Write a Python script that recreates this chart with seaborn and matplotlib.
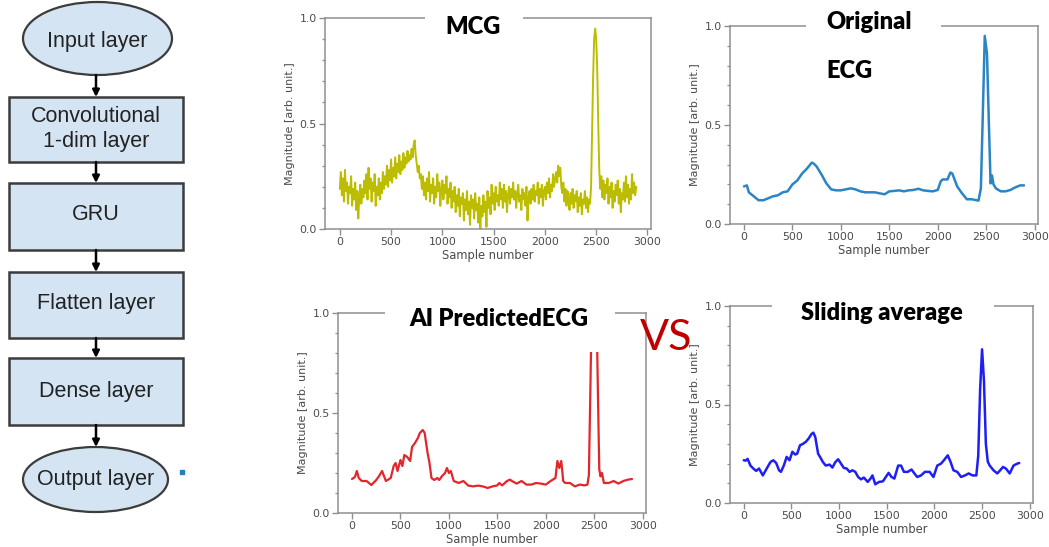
import numpy as np
import pandas as pd
import matplotlib
matplotlib.use("Agg")
import matplotlib.pyplot as plt
import seaborn as sns
from matplotlib.patches import Rectangle, Ellipse
from matplotlib.ticker import MultipleLocator

# ---------------- data ----------------
layers = ["Input layer", "Convolutional\n1-dim layer", "GRU", "Flatten layer", "Dense layer", "Output layer"]
titles = ["MCG", "Original", "AI PredictedECG", "Sliding average"]
x_ticks = [0, 500, 1000, 1500, 2000, 2500, 3000]
y_ticks = [0.0, 0.5, 1.0]
y_tick_labels = ["0.0", "0.5", "1.0"]

mcg_step = 10
mcg_y = [
    0.19, 0.27, 0.16, 0.24, 0.13, 0.28, 0.18, 0.22, 0.12, 0.20,
    0.17, 0.25, 0.11, 0.19, 0.14, 0.22, 0.09, 0.18, 0.05, 0.16,
    0.21, 0.12, 0.19, 0.15, 0.23, 0.17, 0.26, 0.14, 0.29, 0.19,
    0.24, 0.13, 0.22, 0.18, 0.26, 0.11, 0.20, 0.16, 0.24, 0.14,
    0.22, 0.17, 0.27, 0.19, 0.25, 0.21, 0.30, 0.20, 0.28, 0.23,
    0.33, 0.22, 0.29, 0.25, 0.34, 0.24, 0.31, 0.27, 0.35, 0.26,
    0.32, 0.28, 0.36, 0.29, 0.34, 0.31, 0.37, 0.32, 0.35, 0.33,
    0.38, 0.34, 0.40, 0.42, 0.35, 0.31, 0.27, 0.30, 0.24, 0.26,
    0.19, 0.25, 0.16, 0.22, 0.14, 0.24, 0.18, 0.27, 0.13, 0.21,
    0.17, 0.24, 0.12, 0.20, 0.15, 0.26, 0.18, 0.22, 0.11, 0.19,
    0.23, 0.14, 0.21, 0.17, 0.25, 0.12, 0.19, 0.15, 0.22, 0.10,
    0.18, 0.13, 0.20, 0.08, 0.16, 0.11, 0.19, 0.06, 0.15, 0.12,
    0.17, 0.04, 0.14, 0.09, 0.18, 0.07, 0.13, 0.02, 0.16, 0.10,
    0.14, 0.05, 0.17, 0.09, 0.12, 0.03, 0.15, 0.00, 0.11, 0.06,
    0.16, 0.08, 0.13, 0.01, 0.18, 0.10, 0.15, 0.07, 0.21, 0.12,
    0.17, 0.09, 0.20, 0.13, 0.16, 0.11, 0.22, 0.14, 0.19, 0.10,
    0.21, 0.13, 0.18, 0.08, 0.16, 0.20, 0.12, 0.19, 0.15, 0.22,
    0.14, 0.18, 0.10, 0.17, 0.21, 0.13, 0.16, 0.09, 0.19, 0.14,
    0.17, 0.11, 0.20, 0.04, 0.15, 0.18, 0.12, 0.19, 0.14, 0.21,
    0.13, 0.18, 0.16, 0.22, 0.12, 0.19, 0.15, 0.21, 0.11, 0.18,
    0.20, 0.14, 0.22, 0.17, 0.24, 0.15, 0.21, 0.18, 0.26, 0.20,
    0.24, 0.27, 0.22, 0.30, 0.25, 0.29, 0.20, 0.17, 0.22, 0.13,
    0.19, 0.11, 0.18, 0.14, 0.09, 0.17, 0.12, 0.19, 0.10, 0.16,
    0.13, 0.18, 0.08, 0.15, 0.11, 0.17, 0.07, 0.14, 0.12, 0.18,
    0.10, 0.15, 0.08, 0.14, 0.12, 0.20, 0.45, 0.72, 0.90, 0.95,
    0.90, 0.76, 0.50, 0.28, 0.19, 0.25, 0.15, 0.23, 0.14, 0.21,
    0.17, 0.24, 0.12, 0.20, 0.15, 0.22, 0.10, 0.18, 0.13, 0.21,
    0.16, 0.23, 0.12, 0.19, 0.08, 0.17, 0.14, 0.22, 0.13, 0.25,
    0.15, 0.21, 0.12, 0.19, 0.14, 0.26, 0.17, 0.22, 0.16, 0.20,
]

ecg_x = [0, 30, 50, 100, 150, 200, 250, 300, 350, 400,
         450, 500, 550, 600, 650, 700, 720, 750, 800, 850,
         900, 950, 1000, 1050, 1100, 1150, 1200, 1250, 1300, 1350,
         1400, 1450, 1500, 1550, 1600, 1650, 1700, 1750, 1800, 1850,
         1900, 1950, 2000, 2030, 2050, 2100, 2130, 2150, 2200, 2250,
         2300, 2350, 2400, 2420, 2445, 2462, 2485, 2508, 2528, 2545,
         2560, 2575, 2600, 2650, 2700, 2750, 2800, 2850, 2890]
ecg_y = [0.19, 0.195, 0.16, 0.14, 0.12, 0.12, 0.13, 0.14, 0.145, 0.16,
         0.165, 0.20, 0.22, 0.255, 0.28, 0.31, 0.305, 0.29, 0.25, 0.205,
         0.175, 0.17, 0.17, 0.175, 0.18, 0.175, 0.165, 0.16, 0.16, 0.16,
         0.155, 0.15, 0.165, 0.167, 0.17, 0.165, 0.17, 0.172, 0.178, 0.17,
         0.167, 0.165, 0.172, 0.215, 0.225, 0.225, 0.26, 0.255, 0.19, 0.155,
         0.125, 0.125, 0.12, 0.118, 0.18, 0.50, 0.95, 0.86, 0.50, 0.205,
         0.245, 0.20, 0.18, 0.165, 0.165, 0.172, 0.185, 0.195, 0.195]

ai_x = [0, 30, 50, 70, 100, 150, 200, 250, 280, 310,
        350, 400, 430, 450, 470, 500, 520, 540, 570, 600,
        620, 650, 680, 700, 730, 750, 780, 800, 820, 850,
        880, 900, 930, 960, 980, 1000, 1020, 1050, 1100, 1150,
        1200, 1250, 1300, 1350, 1400, 1450, 1500, 1520, 1550, 1600,
        1630, 1650, 1700, 1750, 1800, 1850, 1900, 1950, 2000, 2050,
        2100, 2120, 2140, 2160, 2180, 2200, 2250, 2300, 2350, 2400,
        2430, 2445, 2458, 2470, 2500, 2528, 2540, 2552, 2565, 2580,
        2600, 2650, 2700, 2750, 2800, 2850, 2890]
ai_y = [0.17, 0.18, 0.21, 0.175, 0.16, 0.16, 0.14, 0.165, 0.185, 0.21,
        0.16, 0.175, 0.235, 0.25, 0.21, 0.265, 0.235, 0.29, 0.28, 0.26,
        0.33, 0.35, 0.375, 0.40, 0.415, 0.40, 0.30, 0.25, 0.175, 0.165,
        0.175, 0.165, 0.185, 0.20, 0.225, 0.20, 0.21, 0.16, 0.15, 0.16,
        0.137, 0.133, 0.137, 0.133, 0.125, 0.133, 0.138, 0.15, 0.138, 0.16,
        0.167, 0.16, 0.147, 0.16, 0.142, 0.142, 0.15, 0.147, 0.142, 0.16,
        0.175, 0.26, 0.225, 0.26, 0.16, 0.15, 0.15, 0.133, 0.142, 0.138,
        0.142, 0.19, 0.55, 0.90, 1.0, 0.90, 0.55, 0.22, 0.183, 0.20,
        0.15, 0.15, 0.16, 0.147, 0.16, 0.167, 0.17]

sl_x = [0, 20, 40, 70, 100, 130, 160, 200, 250, 280,
        310, 340, 370, 390, 420, 450, 480, 510, 540, 560,
        590, 620, 650, 680, 710, 730, 750, 780, 800, 830,
        860, 900, 930, 960, 990, 1020, 1050, 1080, 1110, 1140,
        1170, 1200, 1230, 1260, 1300, 1330, 1350, 1380, 1420, 1460,
        1490, 1520, 1550, 1580, 1620, 1650, 1680, 1720, 1760, 1790,
        1820, 1860, 1900, 1950, 1990, 2030, 2070, 2100, 2140, 2170,
        2200, 2240, 2280, 2320, 2360, 2400, 2440, 2460, 2480, 2500,
        2520, 2540, 2560, 2580, 2620, 2660, 2690, 2720, 2750, 2790,
        2830, 2870, 2890]
sl_y = [0.217, 0.215, 0.224, 0.19, 0.175, 0.163, 0.175, 0.14, 0.183, 0.208,
        0.217, 0.203, 0.166, 0.158, 0.19, 0.234, 0.217, 0.26, 0.246, 0.25,
        0.293, 0.30, 0.31, 0.327, 0.35, 0.357, 0.335, 0.25, 0.234, 0.208,
        0.19, 0.195, 0.18, 0.207, 0.222, 0.20, 0.178, 0.175, 0.158, 0.166,
        0.158, 0.132, 0.12, 0.129, 0.107, 0.124, 0.14, 0.095, 0.107, 0.11,
        0.132, 0.153, 0.132, 0.124, 0.19, 0.19, 0.158, 0.158, 0.17, 0.15,
        0.132, 0.14, 0.158, 0.158, 0.132, 0.19, 0.20, 0.217, 0.242, 0.208,
        0.166, 0.158, 0.132, 0.14, 0.15, 0.14, 0.14, 0.24, 0.58, 0.78,
        0.62, 0.30, 0.21, 0.19, 0.166, 0.15, 0.166, 0.183, 0.175, 0.15,
        0.19, 0.20, 0.203]

# ---------------- figure ----------------
sns.set_theme(style="ticks")
plt.rcParams['font.family'] = ['DejaVu Sans']

W, H = 1049, 547
fig = plt.figure(figsize=(W / 100, H / 100), dpi=100)
fig.patch.set_facecolor('white')


def px_axes(x0, y0, x1, y1, z=1):
    return fig.add_axes([x0 / W, 1 - y1 / H, (x1 - x0) / W, (y1 - y0) / H], zorder=z)


def style(ax):
    ax.set_ylim(0, 1)
    ax.set_xticks(x_ticks)
    ax.set_xticklabels([str(t) for t in x_ticks])
    ax.set_yticks(y_ticks)
    ax.set_yticklabels(y_tick_labels)
    ax.yaxis.set_minor_locator(MultipleLocator(0.1))
    for s in ax.spines.values():
        s.set_color('#8f8f8f')
        s.set_linewidth(1.1)
    ax.tick_params(which='major', direction='out', length=4, width=1,
                   color='#8f8f8f', labelcolor='#4a4a4a', labelsize=7.8, pad=2)
    ax.tick_params(which='minor', direction='out', length=2.5, width=0.9,
                   color='#8f8f8f')
    ax.set_xlabel("Sample number", fontsize=8.3, color='#4a4a4a', labelpad=1)
    ax.set_ylabel("Magnitude [arb. unit.]", fontsize=8.0, color='#4a4a4a', labelpad=3)
    ax.set_facecolor('white')


mcg_df = pd.DataFrame({"x": np.arange(len(mcg_y)) * mcg_step, "y": mcg_y})
ecg_df = pd.DataFrame({"x": ecg_x, "y": ecg_y})
ai_df = pd.DataFrame({"x": ai_x, "y": ai_y})
sl_df = pd.DataFrame({"x": sl_x, "y": sl_y})

ax1 = px_axes(325, 18, 651, 229)
sns.lineplot(data=mcg_df, x="x", y="y", ax=ax1, color='#bdbd00', linewidth=1.4, estimator=None)
style(ax1)

ax2 = px_axes(730, 26, 1038, 224)
sns.lineplot(data=ecg_df, x="x", y="y", ax=ax2, color='#2b84c4', linewidth=1.8, estimator=None)
style(ax2)

ax3 = px_axes(338, 313, 646, 513)
sns.lineplot(data=ai_df, x="x", y="y", ax=ax3, color='#e3262a', linewidth=1.6, estimator=None)
style(ax3)

ax4 = px_axes(730, 306, 1033, 503)
sns.lineplot(data=sl_df, x="x", y="y", ax=ax4, color='#1e1ef5', linewidth=1.8, estimator=None)
style(ax4)

# ---------------- overlay: flowchart, title boxes, labels ----------------
ov = px_axes(0, 0, W, H, z=10)
ov.set_xlim(0, W)
ov.set_ylim(H, 0)
ov.axis('off')
ov.patch.set_alpha(0)

fill = '#d4e4f2'
edge = '#3c3c3c'
font_fc = ['Liberation Sans', 'DejaVu Sans']

shapes = [
    ("ellipse", 97.5, 38.5, 149, 73, 42),
    ("box", 96, 129.5, 174, 65, 129),
    ("box", 96, 216.5, 174, 67, 215),
    ("box", 96, 305, 174, 66, 304),
    ("box", 96, 391.5, 174, 67, 391),
    ("ellipse", 95.5, 479.5, 145, 65, 479),
]
for (kind, cx, cy, w, h, ty), label in zip(shapes, layers):
    if kind == "ellipse":
        p = Ellipse((cx, cy), w, h, fc=fill, ec=edge, lw=1.6)
    else:
        p = Rectangle((cx - w / 2, cy - h / 2), w, h, fc=fill, ec=edge, lw=1.8)
    ov.add_patch(p)
    ov.text(cx, ty, label, ha='center', va='center', fontsize=15.5,
            family=font_fc, color='#222222', linespacing=1.25)

for i in range(len(shapes) - 1):
    y0 = shapes[i][2] + shapes[i][4] / 2
    y1 = shapes[i + 1][2] - shapes[i + 1][4] / 2
    ov.annotate("", xy=(96, y1), xytext=(96, y0),
                arrowprops=dict(arrowstyle='-|>', color='black', lw=1.8,
                                mutation_scale=10, shrinkA=0, shrinkB=0))

ov.plot([182], [472], marker='s', ms=2.5, color='#1f7fc0', ls='none')

# white title boxes covering the top spines
for (x0, y0, x1, y1) in [(425, 3, 523, 45), (806, 0, 941, 92),
                         (385, 290, 615, 352), (772, 290, 994, 335)]:
    ov.add_patch(Rectangle((x0, y0), x1 - x0, y1 - y0, fc='white', ec='none'))

tfont = ['Lato', 'DejaVu Sans']
ov.text(473, 27, titles[0], ha='center', va='center', fontsize=17, weight='heavy', family=tfont, color='black')
ov.text(826, 22, titles[1], ha='left', va='center', fontsize=17, weight='heavy', family=tfont, color='black')
ov.text(826, 71, "ECG", ha='left', va='center', fontsize=17, weight='heavy', family=tfont, color='black')
ov.text(499, 319, titles[2], ha='center', va='center', fontsize=17, weight='heavy', family=tfont, color='black')
ov.text(882, 313, titles[3], ha='center', va='center', fontsize=17, weight='heavy', family=tfont, color='black')

ov.text(666, 338, "VS", ha='center', va='center', fontsize=31, weight='normal',
        family=tfont, color='#c00000')

fig.savefig("out.png", dpi=100, facecolor='white')
